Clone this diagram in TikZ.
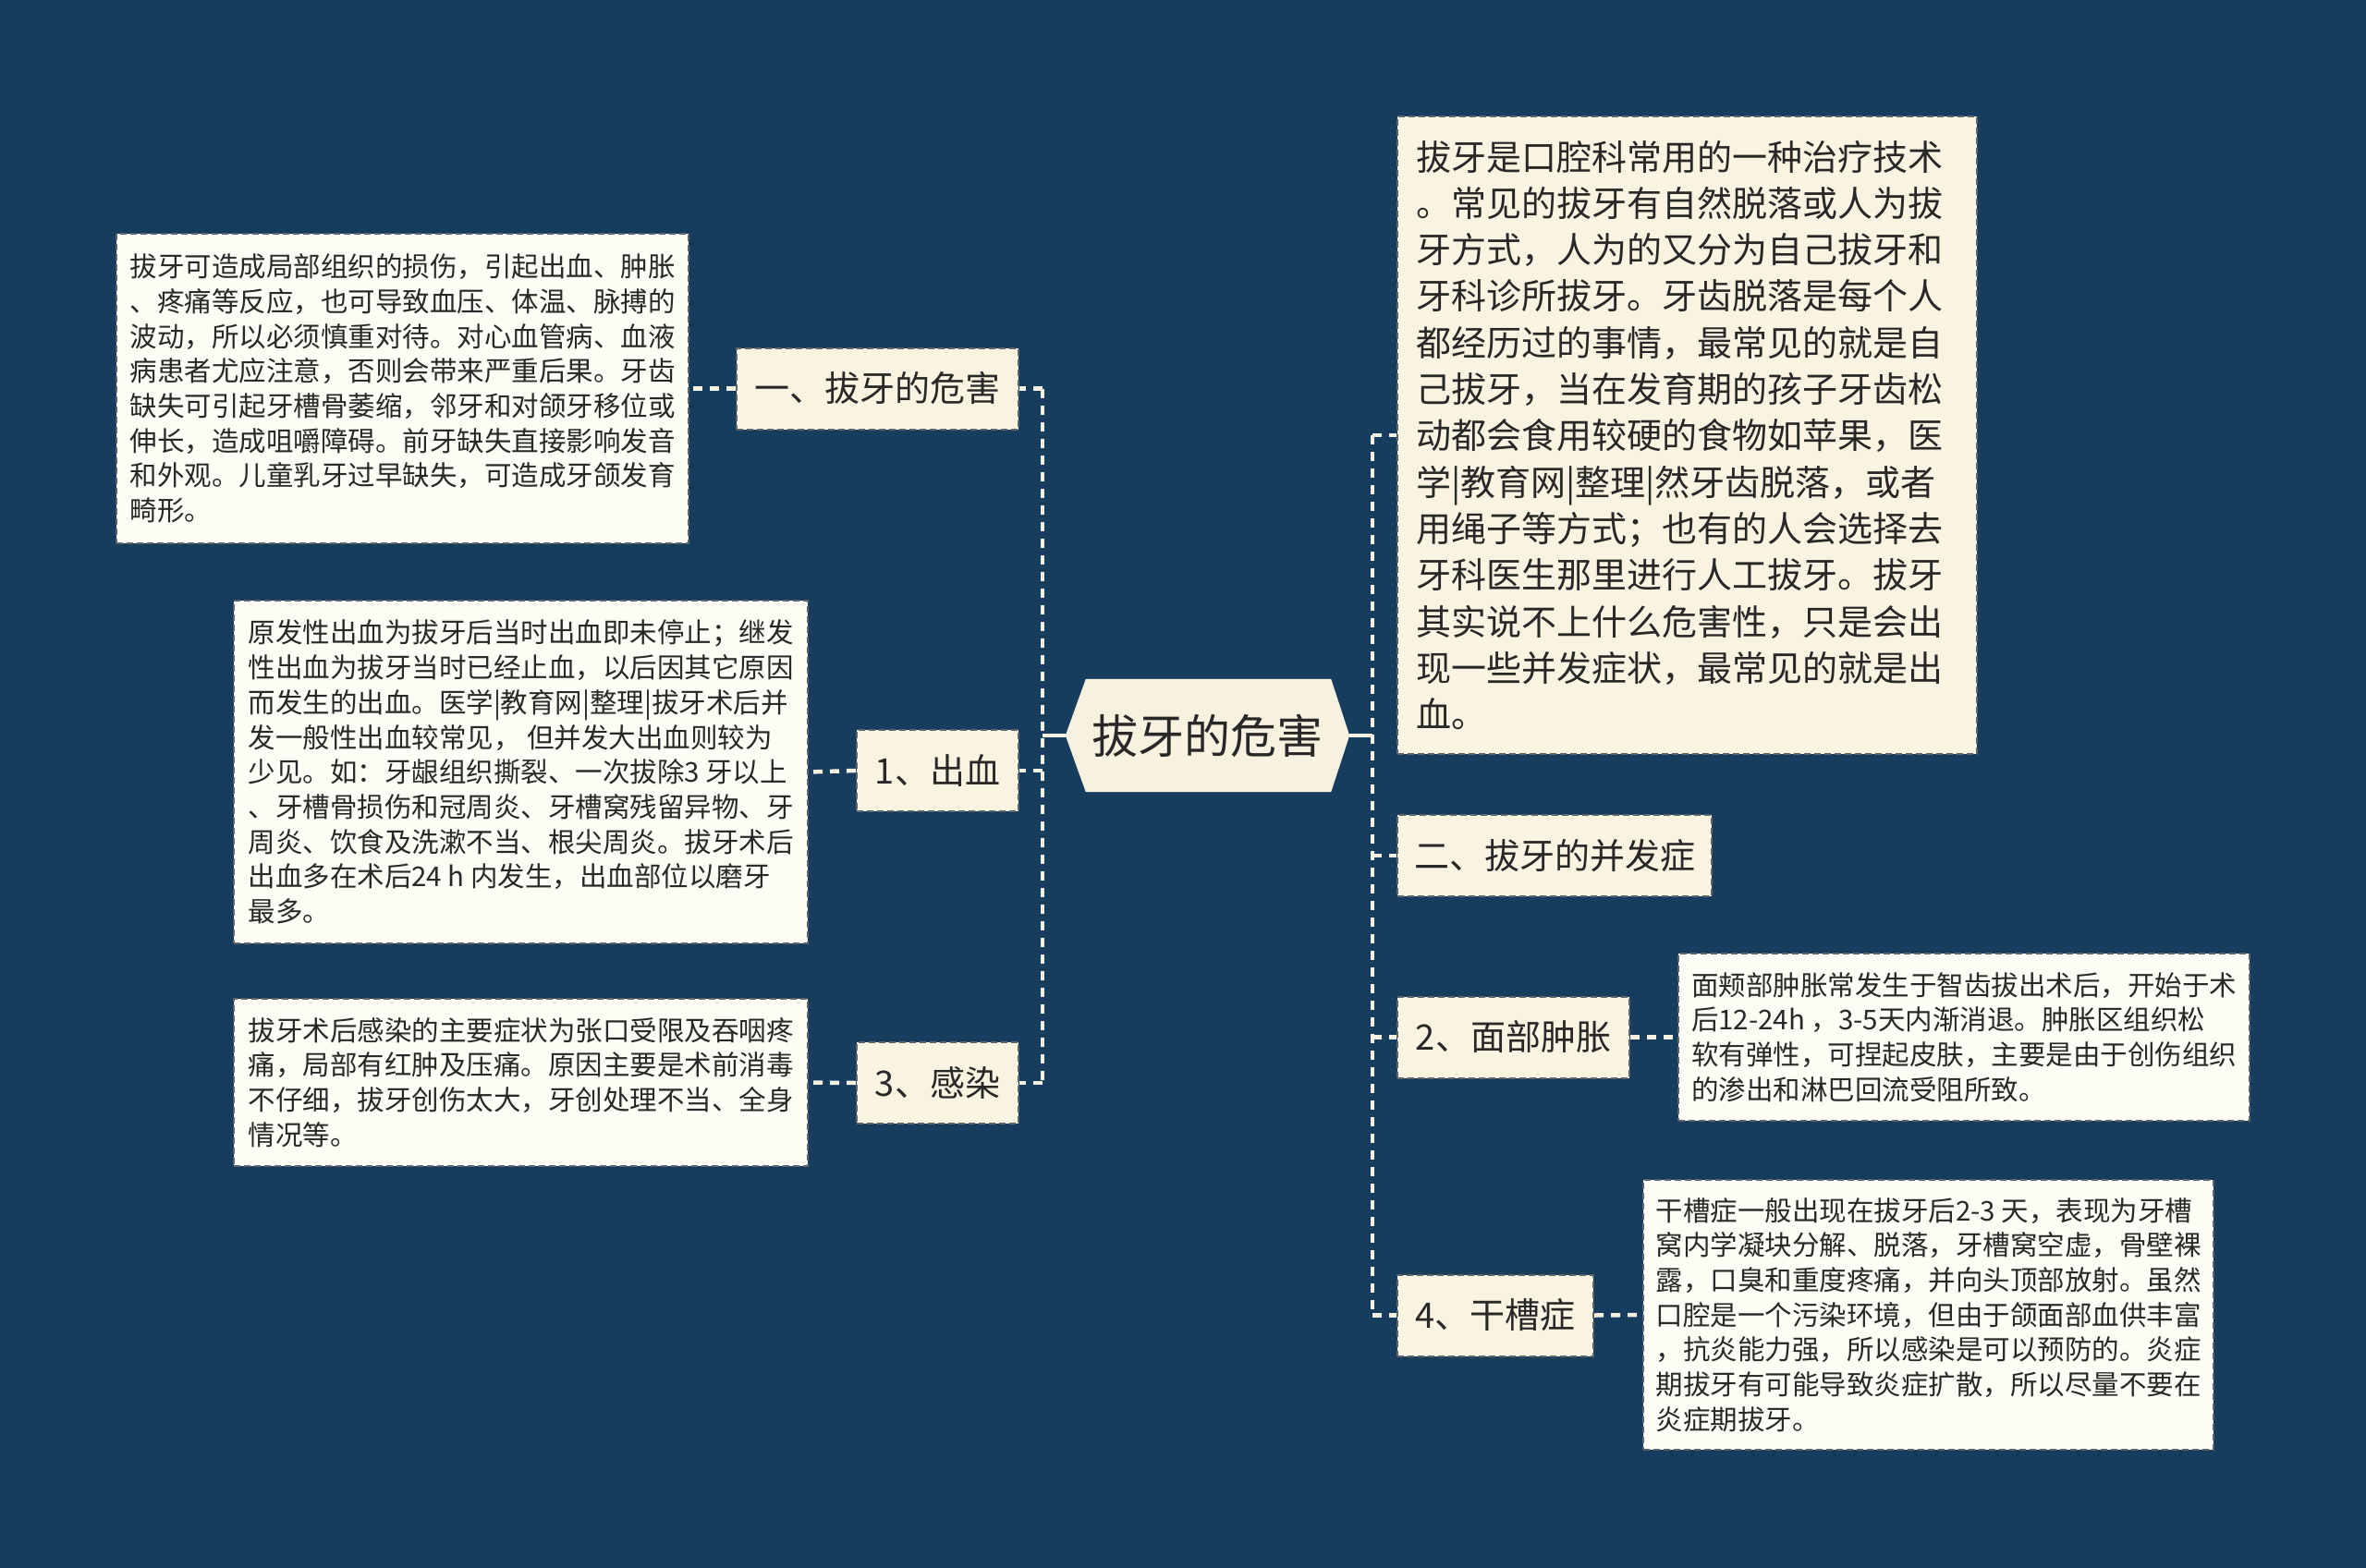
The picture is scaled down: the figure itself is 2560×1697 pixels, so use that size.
\documentclass[tikz,border=0pt]{standalone}
\usepackage{fontspec}
\setmainfont{Noto Sans CJK SC}
\definecolor{bgc}{RGB}{23,61,94}
\definecolor{creamA}{RGB}{248,244,225}
\definecolor{creamB}{RGB}{253,252,245}
\definecolor{creamC}{RGB}{247,242,224}
\definecolor{linec}{RGB}{245,241,225}
\definecolor{bordc}{RGB}{95,100,105}
\definecolor{txt}{RGB}{40,40,40}
\pgfdeclarelayer{bg}
\pgfdeclarelayer{mid}
\pgfsetlayers{bg,mid,main}
\begin{document}
\begin{tikzpicture}[x=1pt,y=-1pt,
  conn/.style={draw=linec, line width=4.5pt},
  dconn/.style={conn, dash pattern=on 10pt off 8pt},
  bnode/.style={draw=bordc, line width=2pt, dash pattern=on 7pt off 4pt, fill=creamA, text=txt,
    font=\fontsize{38}{50}\selectfont, inner sep=0pt, minimum height=88pt},
  leaf/.style={draw=bordc, line width=2pt, dash pattern=on 7pt off 4pt, fill=creamB, text=txt,
    font=\fontsize{29.5}{37.7}\selectfont, align=left, inner sep=0pt},
]
\begin{pgfonlayer}{bg}
\fill[bgc] (0,0) rectangle (2560,1697);
\end{pgfonlayer}
\useasboundingbox (0,0) rectangle (2560,1697);

% centre
\node[font=\fontsize{50}{60}\selectfont, text=txt, minimum width=307pt, minimum height=122pt, inner sep=0pt] (c) at (1306.5,796) {拔牙的危害};
\begin{pgfonlayer}{mid}
\fill[creamC] (c.west) -- ([xshift=22pt]c.north west) -- ([xshift=-20pt]c.north east) -- (c.east)
  -- ([xshift=-20pt]c.south east) -- ([xshift=22pt]c.south west) -- cycle;
\end{pgfonlayer}

% left branches
\node[bnode, minimum width=305pt] (b1) at (949.5,420.5) {一、拔牙的危害};
\node[bnode, minimum width=175pt] (b2) at (1014.5,834) {1、出血};
\node[bnode, minimum width=175pt] (b3) at (1014.5,1172) {3、感染};

% right branches
\node[leaf, fill=creamA, font=\fontsize{38}{50.3}\selectfont, text width=587pt, minimum width=627pt, minimum height=690pt] (rl1) at (1825.5,471) {拔牙是口腔科常用的一种治疗技术\\。常见的拔牙有自然脱落或人为拔\\牙方式，人为的又分为自己拔牙和\\牙科诊所拔牙。牙齿脱落是每个人\\都经历过的事情，最常见的就是自\\己拔牙，当在发育期的孩子牙齿松\\动都会食用较硬的食物如苹果，医\\学|教育网|整理|然牙齿脱落，或者\\用绳子等方式；也有的人会选择去\\牙科医生那里进行人工拔牙。拔牙\\其实说不上什么危害性，只是会出\\现一些并发症状，最常见的就是出\\血。};
\node[bnode, minimum width=340pt] (r2) at (1682,926) {二、拔牙的并发症};
\node[bnode, minimum width=251pt] (r3) at (1637.5,1122.5) {2、面部肿胀};
\node[bnode, minimum width=212pt] (r4) at (1618,1423.5) {4、干槽症};

% leaves
\node[leaf, minimum width=619pt, minimum height=335pt] (la) at (435.5,420.5) {拔牙可造成局部组织的损伤，引起出血、肿胀\\、疼痛等反应，也可导致血压、体温、脉搏的\\波动，所以必须慎重对待。对心血管病、血液\\病患者尤应注意，否则会带来严重后果。牙齿\\缺失可引起牙槽骨萎缩，邻牙和对颌牙移位或\\伸长，造成咀嚼障碍。前牙缺失直接影响发音\\和外观。儿童乳牙过早缺失，可造成牙颌发育\\畸形。};
\node[leaf, minimum width=621pt, minimum height=371pt] (lb) at (563.5,835.5) {原发性出血为拔牙后当时出血即未停止；继发\\性出血为拔牙当时已经止血，以后因其它原因\\而发生的出血。医学|教育网|整理|拔牙术后并\\发一般性出血较常见， 但并发大出血则较为\\少见。如：牙龈组织撕裂、一次拔除3 牙以上\\、牙槽骨损伤和冠周炎、牙槽窝残留异物、牙\\周炎、饮食及洗漱不当、根尖周炎。拔牙术后\\出血多在术后24 h 内发生，出血部位以磨牙\\最多。};
\node[leaf, minimum width=621pt, minimum height=181pt] (lc) at (563.5,1171.5) {拔牙术后感染的主要症状为张口受限及吞咽疼\\痛，局部有红肿及压痛。原因主要是术前消毒\\不仔细，拔牙创伤太大，牙创处理不当、全身\\情况等。};
\node[leaf, minimum width=618pt, minimum height=181pt] (ld) at (2125,1122.5) {面颊部肿胀常发生于智齿拔出术后，开始于术\\后12-24h ，3-5天内渐消退。肿胀区组织松\\软有弹性，可捏起皮肤，主要是由于创伤组织\\的渗出和淋巴回流受阻所致。};
\node[leaf, minimum width=617pt, minimum height=292pt] (le) at (2086.5,1423) {干槽症一般出现在拔牙后2-3 天，表现为牙槽\\窝内学凝块分解、脱落，牙槽窝空虚，骨壁裸\\露，口臭和重度疼痛，并向头顶部放射。虽然\\口腔是一个污染环境，但由于颌面部血供丰富\\，抗炎能力强，所以感染是可以预防的。炎症\\期拔牙有可能导致炎症扩散，所以尽量不要在\\炎症期拔牙。};

% connectors
\coordinate (sl) at (1128,796);
\coordinate (sr) at (1485,796);
\draw[conn] (c.west) -- (sl);
\draw[conn] (c.east) -- (sr);
\draw[dconn] (sl |- b1.east) -- (sl |- b3.east);
\foreach \n in {b1,b2,b3} \draw[dconn] (sl |- \n.east) -- (\n.east);
\draw[dconn] (sr |- rl1.west) -- (sr |- r4.west);
\foreach \n in {rl1,r2,r3,r4} \draw[dconn] (sr |- \n.west) -- (\n.west);
\draw[dconn] (b1.west) -- (la.east);
\draw[dconn] (b2.west) -- (lb.east);
\draw[dconn] (b3.west) -- (lc.east);
\draw[dconn] (r3.east) -- (ld.west);
\draw[dconn] (r4.east) -- (le.west);
\end{tikzpicture}
\end{document}
